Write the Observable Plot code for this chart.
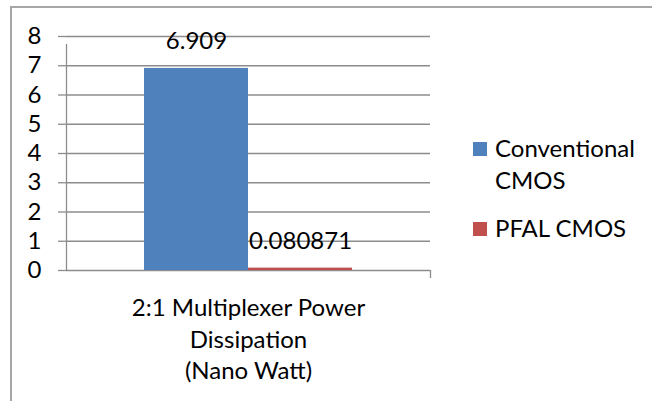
<!DOCTYPE html>
<html>
<head>
<meta charset="utf-8">
<script src="https://cdn.jsdelivr.net/npm/d3@7"></script>
<script src="https://cdn.jsdelivr.net/npm/@observablehq/plot@0.6"></script>
<style>
  html, body { margin: 0; padding: 0; background: #fff; }
  #wrap { position: relative; width: 652px; height: 401px; overflow: hidden; font-family: Lato, "Liberation Sans", sans-serif; }
  #border { position: absolute; left: 10px; top: 6px; right: -10px; bottom: -10px; border-left: 2px solid #a6a6a6; border-top: 2px solid #a6a6a6; }
  #chart { position: absolute; left: 0; top: 0; }
  #legend { position: absolute; left: 473px; top: 132px; font-size: 24px; line-height: 32px; color: #000; }
  .item { display: flex; align-items: flex-start; margin-bottom: 16px; }
  .sw { width: 14px; height: 14px; margin-top: 10px; margin-right: 8px; flex: none; }
  .lab { width: 150px; }
</style>
</head>
<body>
<div id="wrap">
  <div id="border"></div>
  <div id="chart"></div>
  <div id="legend"></div>
</div>
<script>
// ---- data ----
const categories = ["2:1 Multiplexer Power\nDissipation\n(Nano Watt)"];
const series = ["Conventional CMOS", "PFAL CMOS"];
const values = [6.909, 0.080871];
const valueLabels = ["6.909", "0.080871"];
const yTicks = [0, 1, 2, 3, 4, 5, 6, 7, 8];
const colors = ["#4f81bd", "#c0504d"];

const data = series.map((s, i) => ({series: s, value: values[i], label: valueLabels[i]}));

// ---- layout ----
const W = 652, H = 401, mL = 66, mR = 222, mT = 36, mB = 131;
const pad = 0.75; // Excel gap width 150% split on both sides
const step = (W - mL - mR) / (series.length + 2 * pad);
const edge = step / 2 + pad * step;
const gridColor = "#8c8c8c";
const font = "Lato, 'Liberation Sans', sans-serif";

const chart = Plot.plot({
  width: W, height: H,
  marginLeft: mL, marginRight: mR, marginTop: mT, marginBottom: mB,
  style: {fontFamily: font, fontSize: "24px", color: "#000", background: "transparent", overflow: "visible"},
  x: {type: "band", domain: series, paddingInner: 0, paddingOuter: pad, axis: null},
  y: {domain: [yTicks[0], yTicks[yTicks.length - 1]], axis: null},
  color: {domain: series, range: colors},
  marks: [
    Plot.gridY(yTicks, {stroke: gridColor, strokeOpacity: 1, strokeWidth: 1.3}),
    Plot.axisY(yTicks, {tickSize: 8, tickPadding: 17, stroke: gridColor, strokeOpacity: 1, strokeWidth: 1.3, fill: "#000", label: null, fontSize: 24}),
    Plot.barY(data, {x: "series", y: "value", fill: "series"}),
    Plot.ruleX([series[0]], {x: d => d, y1: yTicks[0], y2: yTicks[yTicks.length - 1], dx: -edge, insetBottom: -8, stroke: gridColor, strokeWidth: 1.3}),
    Plot.ruleX([series[series.length - 1]], {x: d => d, y1: yTicks[0], y2: yTicks[0], dx: edge, insetBottom: -8, stroke: gridColor, strokeWidth: 1.3}),
    Plot.text(data, {x: "series", y: "value", text: "label", dy: -19, lineAnchor: "bottom", fill: "#000", fontSize: 24}),
    Plot.text(categories, {frameAnchor: "bottom", text: d => d, lineAnchor: "top", dy: 23, lineHeight: 1.32, fill: "#000", fontSize: 24})
  ]
});
document.getElementById("chart").appendChild(chart);

// ---- legend ----
const legend = document.getElementById("legend");
series.forEach((s, i) => {
  const item = document.createElement("div");
  item.className = "item";
  const sw = document.createElement("div");
  sw.className = "sw";
  sw.style.background = colors[i];
  const lab = document.createElement("div");
  lab.className = "lab";
  lab.textContent = s;
  item.appendChild(sw);
  item.appendChild(lab);
  legend.appendChild(item);
});
</script>
</body>
</html>
